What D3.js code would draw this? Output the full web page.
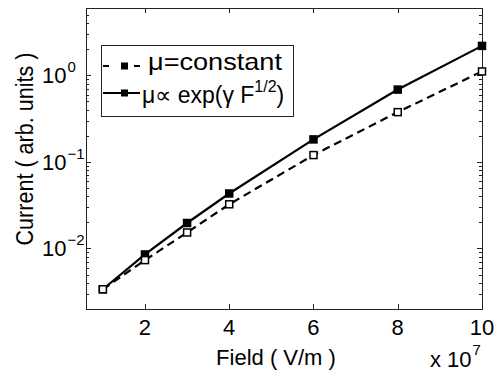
<!DOCTYPE html>
<html><head><meta charset="utf-8">
<script src="https://cdn.jsdelivr.net/npm/d3@7"></script>
<style>
body{margin:0;background:#fff;}
text{font-family:"Liberation Sans",Arial,sans-serif;fill:#000;}
</style></head>
<body><svg id="c" width="497" height="375"></svg>
<script>
const fieldValues = [1, 2, 3, 4, 6, 8, 10];
const currentConstant = [0.00338, 0.00734, 0.0153, 0.0324, 0.120, 0.376, 1.11];
const currentExp = [0.00338, 0.00853, 0.0197, 0.0432, 0.182, 0.685, 2.19];
const xTickValues = [2, 4, 6, 8, 10];
const yTickExponents = [-2, -1, 0];
const seriesLabels = ["μ=constant", "μ∝ exp(γ F"];

const svg = d3.select("#c");
const L = 86, R = 482, T = 8, B = 309;
const x = d3.scaleLinear().domain([0.6, 10]).range([L, R]);
const y = d3.scaleLog().domain([0.002, 6]).range([B, T]);

// frame
svg.append("rect").attr("x", L + 0.5).attr("y", T + 0.5).attr("width", R - L).attr("height", B - T)
  .attr("fill", "none").attr("stroke", "#222").attr("stroke-width", 1);

const tl = 5, mtl = 3;
xTickValues.forEach(v => {
  const px = Math.round(x(v)) + 0.5;
  svg.append("line").attr("x1", px).attr("x2", px).attr("y1", B).attr("y2", B - tl).attr("stroke", "#222");
  svg.append("line").attr("x1", px).attr("x2", px).attr("y1", T).attr("y2", T + tl).attr("stroke", "#222");
  svg.append("text").attr("x", x(v)).attr("y", 335).attr("text-anchor", "middle")
    .attr("font-size", 22).text(v);
});
const minor = [];
for (let e = -3; e <= 0; e++) for (let m = 1; m <= 9; m++) {
  const v = m * Math.pow(10, e);
  if (v >= 0.002 && v <= 6) minor.push({v, major: m === 1});
}
minor.forEach(d => {
  const py = Math.round(y(d.v)) + 0.5;
  const len = d.major ? tl : mtl;
  svg.append("line").attr("x1", L).attr("x2", L + len).attr("y1", py).attr("y2", py).attr("stroke", "#222");
  svg.append("line").attr("x1", R).attr("x2", R - len).attr("y1", py).attr("y2", py).attr("stroke", "#222");
});
yTickExponents.forEach(e => {
  const t = svg.append("text").attr("x", 42).attr("y", y(Math.pow(10, e)) + 8).attr("font-size", 22);
  t.append("tspan").text("10");
  t.append("tspan").attr("dy", -11).attr("dx", 1).attr("font-size", 15).text(e < 0 ? "\u2212" + (-e) : e);
});

// axis labels
svg.append("text").attr("x", 276).attr("y", 365).attr("text-anchor", "middle").attr("font-size", 22)
  .text("Field ( V/m )");
const xm = svg.append("text").attr("x", 430).attr("y", 367).attr("font-size", 22);
xm.append("tspan").text("x 10");
xm.append("tspan").attr("dy", -12).attr("dx", 1).attr("font-size", 15).text("7");
svg.append("text").attr("transform", "translate(33,149) rotate(-90)").attr("text-anchor", "middle")
  .attr("font-size", 23).attr("textLength", 193).attr("lengthAdjust", "spacingAndGlyphs")
  .text("Current ( arb. units )");

// series
const line = d3.line().x(d => x(d[0])).y(d => y(d[1]));
const ms = 7;
function drawSeries(vals, dash, fill) {
  const pts = fieldValues.map((f, i) => [f, vals[i]]);
  svg.append("path").datum(pts).attr("d", line).attr("fill", "none").attr("stroke", "#000")
    .attr("stroke-width", 2.2).attr("stroke-dasharray", dash);
  svg.selectAll(null).data(pts).enter().append("rect")
    .attr("x", d => x(d[0]) - ms / 2).attr("y", d => y(d[1]) - ms / 2)
    .attr("width", ms).attr("height", ms).attr("fill", fill).attr("stroke", "#000").attr("stroke-width", 1.5);
}
drawSeries(currentExp, null, "#000");
drawSeries(currentConstant, "8,5", "#fff");

// legend
svg.append("rect").attr("x", 101.5).attr("y", 45.5).attr("width", 192).attr("height", 71)
  .attr("fill", "#fff").attr("stroke", "#222").attr("stroke-width", 1);
const rows = [66, 93];
svg.append("line").attr("x1", 103).attr("x2", 140).attr("y1", rows[0]).attr("y2", rows[0])
  .attr("stroke", "#000").attr("stroke-width", 2.2).attr("stroke-dasharray", "6,25");
svg.append("line").attr("x1", 103).attr("x2", 140).attr("y1", rows[1]).attr("y2", rows[1])
  .attr("stroke", "#000").attr("stroke-width", 2.2);
rows.forEach(r => svg.append("rect").attr("x", 124.5 - 3.5).attr("y", r - 3.5)
  .attr("width", 7).attr("height", 7).attr("fill", "#000"));
svg.append("text").attr("x", 148).attr("y", 70).attr("font-size", 24)
  .attr("textLength", 134).attr("lengthAdjust", "spacingAndGlyphs").text(seriesLabels[0]);
const t2 = svg.append("text").attr("x", 142).attr("y", 103).attr("font-size", 23);
t2.append("tspan").text(seriesLabels[1]);
t2.append("tspan").attr("dy", -11).attr("font-size", 16).text("1/2");
t2.append("tspan").attr("dy", 11).text(")");
</script></body></html>
